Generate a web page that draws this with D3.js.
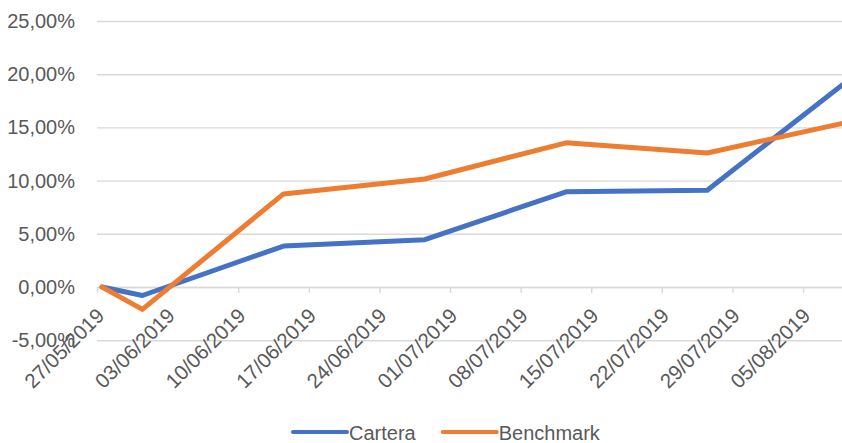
<!DOCTYPE html>
<html>
<head>
<meta charset="utf-8">
<script src="https://cdn.jsdelivr.net/npm/d3@7"></script>
<style>
  html, body { margin: 0; padding: 0; background: #fff; }
  svg text { font-family: "Liberation Sans", Arial, sans-serif; fill: #595959; }
</style>
</head>
<body>
<div id="chart"></div>
<script>
(function() {
  var width = 842;
  var height = 443;

  // data (returns in %)
  var dates = ['27/05/2019', '31/05/2019', '14/06/2019', '28/06/2019', '12/07/2019', '26/07/2019', '09/08/2019'];
  var cartera = [0, -0.8, 3.85, 4.45, 8.95, 9.1, 19.45];
  var benchmark = [0, -2.1, 8.75, 10.15, 13.55, 12.6, 15.5];
  var seriesNames = ['Cartera', 'Benchmark'];
  var seriesColors = ['#4472C4', '#ED7D31'];
  var yTicks = [-5, 0, 5, 10, 15, 20, 25];

  var parseDate = d3.timeParse('%d/%m/%Y');
  var formatDate = d3.timeFormat('%d/%m/%Y');
  var gridColor = '#d9d9d9';

  var x = d3.scaleTime()
    .domain([parseDate('27/05/2019'), parseDate('10/08/2019')])
    .range([97, 853.5]);
  var y = d3.scaleLinear()
    .domain([-5, 25])
    .range([340.2, 21]);

  var svg = d3.select('#chart').append('svg')
    .attr('width', width)
    .attr('height', height);

  /*
   * Y axis with gridlines
   */
  var yAxis = d3.axisLeft(y)
    .tickValues(yTicks)
    .tickSize(-(x.range()[1] - x.range()[0]))
    .tickPadding(22)
    .tickFormat(function(d) {
      // excel style: comma decimals and a plain hyphen for the minus
      return d3.format('.2f')(d).replace('.', ',').replace('\u2212', '-') + '%';
    });

  var gy = svg.append('g')
    .attr('transform', 'translate(' + x.range()[0] + ',0)')
    .call(yAxis);
  gy.select('.domain').remove();
  gy.selectAll('line').attr('stroke', gridColor).attr('stroke-width', 1.4);
  gy.selectAll('text')
    .attr('font-size', 20)
    .attr('fill', '#595959')
    .style('font-family', '"Liberation Sans", Arial, sans-serif');

  /*
   * X axis on the zero line
   */
  var weekTicks = d3.timeMonday.range(parseDate('27/05/2019'), parseDate('06/08/2019'));
  var xAxis = d3.axisBottom(x)
    .tickValues(weekTicks)
    .tickSizeInner(6)
    .tickSizeOuter(0)
    .tickFormat(formatDate);

  var gx = svg.append('g')
    .attr('transform', 'translate(0,' + y(0) + ')')
    .call(xAxis);
  gx.select('.domain').attr('stroke', gridColor).attr('stroke-width', 1.4);
  gx.selectAll('line').attr('stroke', gridColor).attr('stroke-width', 1.4);
  gx.selectAll('text')
    .attr('font-size', 20.5)
    .attr('fill', '#595959')
    .style('font-family', '"Liberation Sans", Arial, sans-serif')
    .attr('text-anchor', 'end')
    .attr('y', 0)
    .attr('dy', 0)
    .attr('transform', 'translate(8,30) rotate(-45)');

  /*
   * Lines (points sit half a day after their date)
   */
  var halfDay = 12 * 60 * 60 * 1000;
  var line = d3.line()
    .x(function(d) { return x(new Date(parseDate(d.date).getTime() + halfDay)); })
    .y(function(d) { return y(d.value); });

  [cartera, benchmark].forEach(function(values, i) {
    var rows = dates.map(function(date, j) {
      return { date: date, value: values[j] };
    });
    svg.append('path')
      .datum(rows)
      .attr('fill', 'none')
      .attr('stroke', seriesColors[i])
      .attr('stroke-width', 5)
      .attr('stroke-linejoin', 'round')
      .attr('stroke-linecap', 'round')
      .attr('d', line);
  });

  /*
   * Legend
   */
  var legend = svg.append('g').attr('class', 'legend');
  var legendX = 293;
  seriesNames.forEach(function(name, i) {
    legend.append('line')
      .attr('x1', legendX)
      .attr('x2', legendX + 54)
      .attr('y1', 432)
      .attr('y2', 432)
      .attr('stroke', seriesColors[i])
      .attr('stroke-width', 4)
      .attr('stroke-linecap', 'round');
    var label = legend.append('text')
      .attr('x', legendX + 56)
      .attr('y', 440)
      .attr('font-size', 20)
      .text(name);
    legendX += 56 + label.node().getComputedTextLength() + 27;
  });
})();
</script>
</body>
</html>
